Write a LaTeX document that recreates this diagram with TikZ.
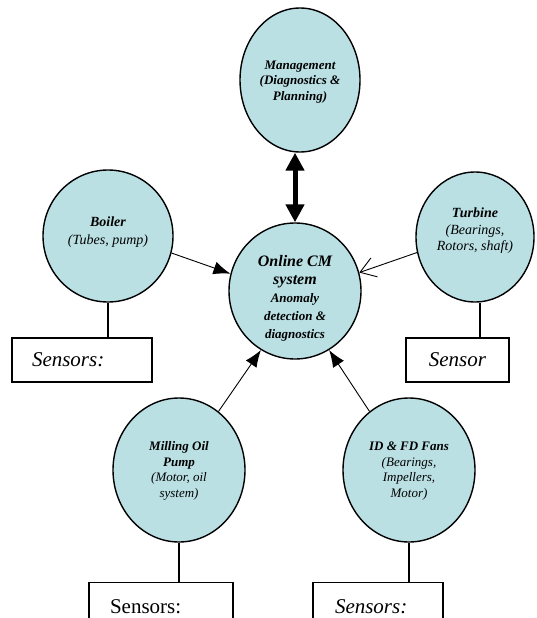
\documentclass[tikz,border=0pt]{standalone}
\usepackage{fontspec}
\setmainfont{Liberation Serif}
\usetikzlibrary{shapes.geometric,arrows.meta}
\definecolor{bubfill}{RGB}{186,224,228}
\tikzset{
  bub/.style={ellipse, draw=black, line width=1.4pt, fill=bubfill, inner sep=0pt},
  btxt/.style={align=center, font=\fontsize{13}{15.5}\selectfont\bfseries\itshape},
  sbox/.style={draw=black, line width=1.2pt, fill=white, font=\fontsize{21}{24}\selectfont},
  conn/.style={line width=1.2pt},
  farrow/.style={line width=0.9pt, -{Latex[length=17pt,width=13pt]}},
  oarrow/.style={line width=0.9pt, -{Straight Barb[length=15pt,width=20pt,line width=0.9pt]}},
  dblarrow/.style={line width=5pt, {Triangle[length=18pt,width=18pt]}-{Triangle[length=18pt,width=18pt]}}
}
\begin{document}
\begin{tikzpicture}[x=1pt,y=-1pt]
\useasboundingbox (0,0) rectangle (536,618);

% bubbles
\node[bub, minimum width=120pt, minimum height=144pt] (mgmt) at (300,80) {};
\node[btxt] at (300,82) {Management\\(Diagnostics \&\\Planning)};

\node[bub, minimum width=130pt, minimum height=132pt] (boiler) at (108,236) {};
\node[align=center, font=\fontsize{14}{18}\selectfont\itshape] at (108,232) {\textbf{Boiler}\\(Tubes, pump)};

\node[bub, minimum width=118pt, minimum height=130pt] (turbine) at (475,237) {};
\node[align=center, font=\fontsize{14}{16.5}\selectfont\itshape] at (475,231) {\textbf{Turbine}\\(Bearings,\\Rotors, shaft)};

\node[bub, minimum width=132pt, minimum height=136pt] (cm) at (295,291) {};
\node[align=center, font=\bfseries\itshape\fontsize{16}{18}\selectfont] at (295,298) {Online CM\\system\\\fontsize{13}{16}\selectfont Anomaly\\\fontsize{13}{16}\selectfont detection \&\\\fontsize{13}{16}\selectfont diagnostics};

\node[bub, minimum width=132pt, minimum height=144pt] (mill) at (179,470) {};
\node[align=center, font=\fontsize{13}{15.5}\selectfont\itshape] at (179,471) {\textbf{Milling Oil}\\\textbf{Pump}\\(Motor, oil\\system)};

\node[bub, minimum width=132pt, minimum height=144pt] (fans) at (409,470) {};
\node[align=center, font=\fontsize{13}{15.5}\selectfont\itshape] at (409,471) {\textbf{ID \& FD Fans}\\(Bearings,\\Impellers,\\Motor)};

% sensor boxes
\node[sbox, minimum width=140pt, minimum height=44pt, inner xsep=20pt, text width=100pt, align=left, font=\fontsize{21}{24}\selectfont\itshape] (sensL) at (82,360) {Sensors:};
\node[sbox, minimum width=103pt, minimum height=44pt, inner xsep=0pt, text width=103pt, align=center, font=\fontsize{21}{24}\selectfont\itshape] (sensR) at (457.5,360) {Sensor};
\node[sbox, anchor=north, inner xsep=21pt, text width=102pt, align=left, inner ysep=17pt, text height=14pt, text depth=40pt] (sensBL) at (161,582) {Sensors:};
\node[sbox, anchor=north, inner xsep=22pt, text width=86pt, align=left, inner ysep=17pt, text height=14pt, text depth=40pt, font=\fontsize{21}{24}\selectfont\itshape] (sensBR) at (378,582) {Sensors:};

% stems
\draw[conn] (boiler.south) -- (boiler.south |- sensL.north);
\draw[conn] (turbine.south) ++(5,0) coordinate (tstem) -- (tstem |- sensR.north);
\draw[conn] (mill.south) -- (mill.south |- sensBL.north);
\draw[conn] (fans.south) -- (fans.south |- sensBR.north);

% arrows
\draw[dblarrow] (cm.north |- mgmt.south) -- (cm.north);
\draw[farrow] (boiler.-15) -- (cm.165);
\draw[oarrow] (turbine.-165) -- (cm.16);
\draw[farrow] (mill.56) -- (cm.-120);
\draw[farrow] (fans.124) -- (cm.-60);
\end{tikzpicture}
\end{document}
